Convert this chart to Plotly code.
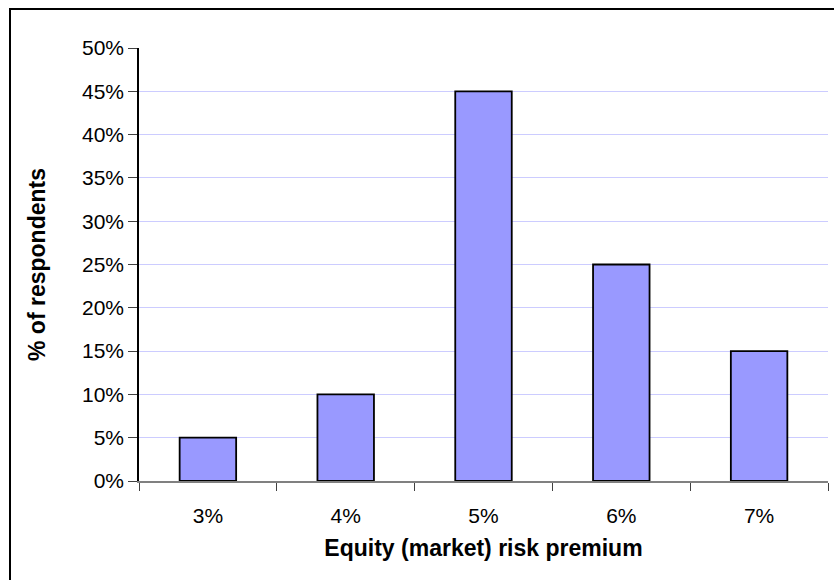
import plotly.graph_objects as go

categories = ["3%", "4%", "5%", "6%", "7%"]
respondents = [0.05, 0.10, 0.45, 0.25, 0.15]
y_ticks = [0, 0.05, 0.10, 0.15, 0.20, 0.25, 0.30, 0.35, 0.40, 0.45, 0.50]

W, H = 834, 580
L, R, T, B = 139, 6, 48, 99
pw, ph = W - L - R, H - T - B

fig = go.Figure(go.Bar(
    x=categories, y=respondents,
    marker=dict(color="#9999ff", line=dict(color="#000000", width=1.8)),
    width=0.41,
))

font_family = "Liberation Sans, Arial, sans-serif"

fig.update_layout(
    width=W, height=H,
    margin=dict(l=L, r=R, t=T, b=B, autoexpand=False),
    paper_bgcolor="white", plot_bgcolor="white",
    showlegend=False,
    font=dict(family=font_family, size=21, color="#000000"),
    xaxis=dict(
        type="category",
        range=[-0.5, 4.5],
        tickson="boundaries",
        ticks="outside", ticklen=8, tickcolor="#404040", tickwidth=1,
        showgrid=False,
        showline=True, linecolor="#808080", linewidth=2,
        ticklabelstandoff=15,
        tickfont=dict(size=21),
        title=dict(text="<b>Equity (market) risk premium</b>", font=dict(size=23), standoff=14),
        automargin=False,
        zeroline=False,
    ),
    yaxis=dict(
        range=[0, 0.5],
        tickvals=y_ticks,
        tickformat=".0%",
        ticks="outside", ticklen=9, tickcolor="#404040", tickwidth=1,
        showgrid=True, gridcolor="#ccccff", gridwidth=1,
        showline=True, linecolor="#000000", linewidth=1.5,
        zeroline=False,
        tickfont=dict(size=21),
        title=dict(text="<b>% of respondents</b>", font=dict(size=23), standoff=30),
        automargin=False,
    ),
)

# outer chart-area frame (left and top edges visible; right/bottom run past the image)
x0 = (10 - L) / pw
y1 = 1 + (T - 9) / ph
fig.add_shape(type="rect", xref="paper", yref="paper",
              x0=x0, x1=(W + 10 - L) / pw, y0=-(B + 10) / ph, y1=y1,
              line=dict(color="#000000", width=2), fillcolor="rgba(0,0,0,0)", layer="below")

fig.write_html("out.html")
